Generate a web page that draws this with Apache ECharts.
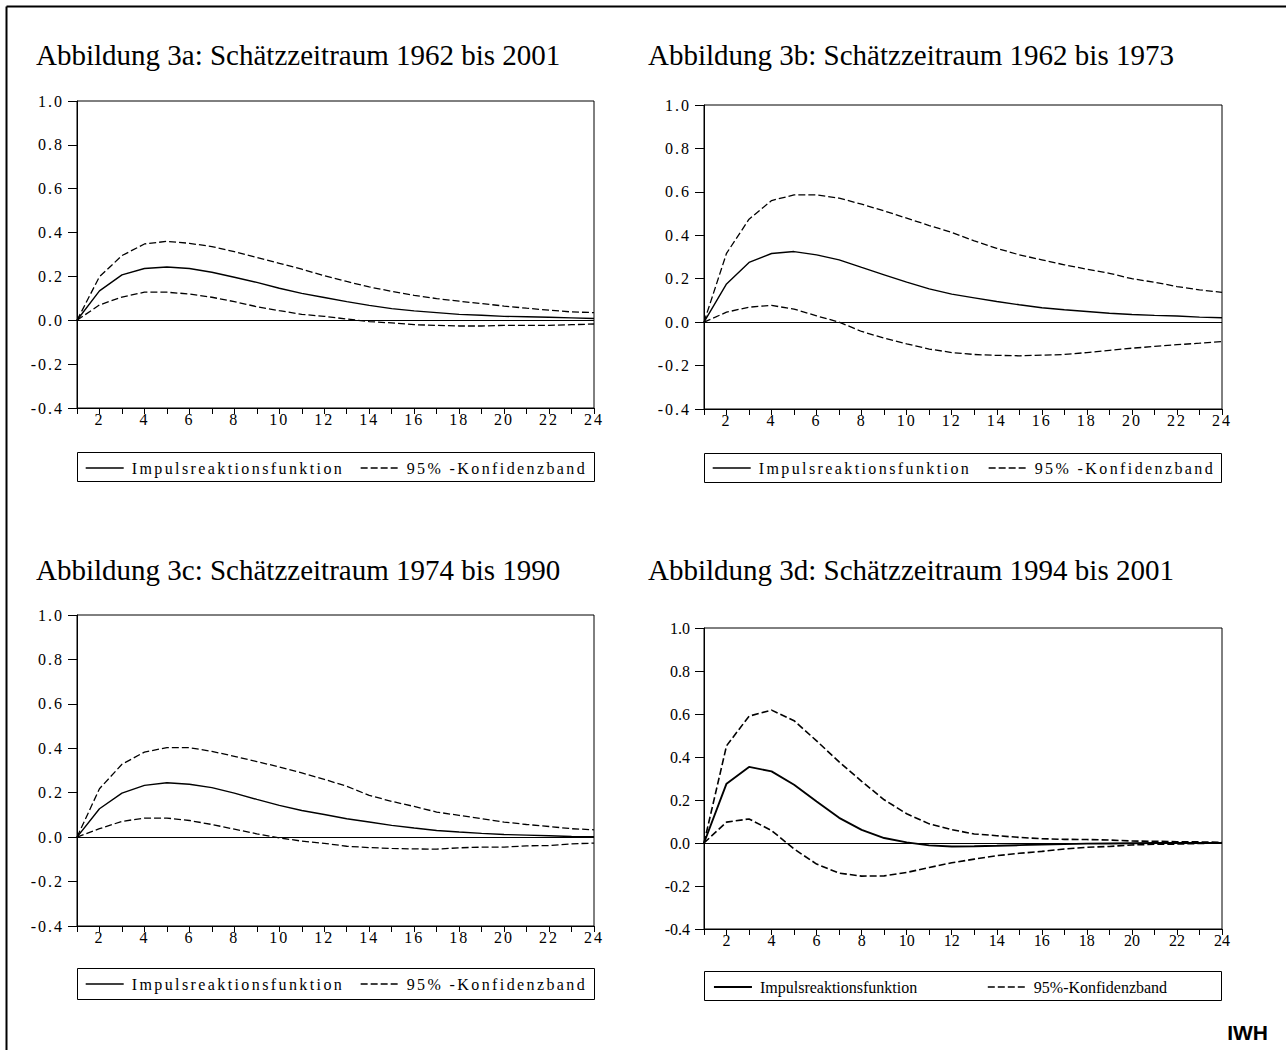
<!DOCTYPE html>
<html><head><meta charset="utf-8">
<script src="https://cdn.jsdelivr.net/npm/echarts@6/dist/echarts.min.js"></script>
<style>
html,body{margin:0;padding:0;background:#fff;}
#c{width:1286px;height:1050px;}
#c text[style*="Times New Roman"]{letter-spacing:2px;}
#c text[style*="Times, serif"]{letter-spacing:2.4px;}
</style></head><body><div id="c"></div>
<script>
// ---- data ----
const horizons = [1,2,3,4,5,6,7,8,9,10,11,12,13,14,15,16,17,18,19,20,21,22,23,24];
const yTicks = [-0.4,-0.2,0.0,0.2,0.4,0.6,0.8,1.0];
const titles = [
  'Abbildung 3a: Schätzzeitraum 1962 bis 2001',
  'Abbildung 3b: Schätzzeitraum 1962 bis 1973',
  'Abbildung 3c: Schätzzeitraum 1974 bis 1990',
  'Abbildung 3d: Schätzzeitraum 1994 bis 2001'
];
const irfName = 'Impulsreaktionsfunktion';
const bandNameABC = '95% -Konfidenzband';
const bandNameD = '95%-Konfidenzband';

const irfA = [0,0.134,0.207,0.236,0.243,0.236,0.219,0.196,0.173,0.146,0.123,0.104,0.085,0.068,0.053,0.043,0.035,0.027,0.023,0.018,0.016,0.014,0.011,0.008];
const upA  = [0,0.199,0.295,0.348,0.360,0.351,0.336,0.313,0.286,0.260,0.233,0.203,0.177,0.152,0.132,0.114,0.099,0.087,0.076,0.065,0.055,0.046,0.038,0.035];
const loA  = [0,0.070,0.106,0.128,0.128,0.120,0.105,0.085,0.062,0.044,0.027,0.018,0.006,-0.006,-0.012,-0.020,-0.023,-0.026,-0.026,-0.023,-0.023,-0.023,-0.020,-0.017];

const irfB = [0,0.176,0.275,0.316,0.325,0.310,0.287,0.252,0.218,0.184,0.153,0.129,0.112,0.095,0.080,0.066,0.057,0.049,0.041,0.035,0.031,0.028,0.023,0.020];
const upB  = [0,0.317,0.474,0.560,0.586,0.586,0.571,0.543,0.512,0.479,0.445,0.413,0.374,0.340,0.310,0.287,0.264,0.244,0.225,0.200,0.184,0.164,0.149,0.137];
const loB  = [0,0.046,0.069,0.077,0.060,0.029,0.000,-0.043,-0.074,-0.100,-0.124,-0.140,-0.149,-0.153,-0.155,-0.152,-0.149,-0.140,-0.130,-0.120,-0.112,-0.104,-0.097,-0.089];

const irfC = [0,0.128,0.198,0.233,0.245,0.238,0.223,0.198,0.170,0.143,0.120,0.102,0.083,0.068,0.053,0.041,0.030,0.023,0.017,0.012,0.009,0.006,0.003,0.002];
const upC  = [0,0.218,0.328,0.383,0.403,0.403,0.386,0.364,0.340,0.316,0.289,0.260,0.229,0.188,0.161,0.138,0.113,0.098,0.083,0.068,0.057,0.048,0.038,0.033];
const loC  = [0,0.038,0.071,0.086,0.086,0.075,0.057,0.036,0.015,-0.003,-0.018,-0.028,-0.041,-0.047,-0.051,-0.053,-0.054,-0.048,-0.045,-0.045,-0.039,-0.038,-0.030,-0.027];

const irfD = [0,0.276,0.354,0.333,0.271,0.193,0.117,0.061,0.023,0.003,-0.011,-0.016,-0.015,-0.013,-0.010,-0.007,-0.005,-0.003,-0.002,-0.001,0.000,0.000,0.000,0.000];
const upD  = [0,0.452,0.590,0.618,0.569,0.475,0.377,0.287,0.201,0.136,0.089,0.062,0.042,0.034,0.026,0.020,0.017,0.016,0.014,0.009,0.008,0.006,0.005,0.003];
const loD  = [0,0.097,0.112,0.058,-0.028,-0.098,-0.140,-0.154,-0.153,-0.137,-0.114,-0.092,-0.075,-0.059,-0.048,-0.039,-0.028,-0.020,-0.016,-0.009,-0.006,-0.005,-0.002,0.000];

// ---- layout / style ----
const SERIF = "'Liberation Serif', serif";
const SERIF_LBL = "'Liberation Serif', 'Times New Roman', serif";
const SERIF_LEG = "'Liberation Serif', Times, serif";

const panels = [
  {grid:{left:77, top:101, width:517, height:307}, irf:irfA, up:upA, lo:loA, band:bandNameABC, spaced:true,
   title:{left:36, top:40}, leg:{l1:85, l2:360, top:460}, box:[77.5,452.5,517,29], w1:1.4, w2:1.3},
  {grid:{left:704, top:105, width:518, height:304}, irf:irfB, up:upB, lo:loB, band:bandNameABC, spaced:true,
   title:{left:648, top:40}, leg:{l1:712, l2:988, top:460}, box:[704.5,453.5,517,29], w1:1.4, w2:1.3},
  {grid:{left:77, top:615, width:517, height:311}, irf:irfC, up:upC, lo:loC, band:bandNameABC, spaced:true,
   title:{left:36, top:555}, leg:{l1:85, l2:360, top:976}, box:[77.5,968.5,517,31], w1:1.4, w2:1.3},
  {grid:{left:704, top:628, width:518, height:301}, irf:irfD, up:upD, lo:loD, band:bandNameD, spaced:false,
   title:{left:648, top:555}, leg:{l1:713, l2:987, top:979}, box:[704.5,971.5,517,29], w1:1.9, w2:1.6}
];

const option = {
  backgroundColor:'#fff',
  animation:false,
  title:[], grid:[], xAxis:[], yAxis:[], series:[], legend:[],
  graphic:[]
};

panels.forEach((p,i)=>{
  option.title.push({text:titles[i], left:p.title.left, top:p.title.top, padding:0,
    textStyle:{fontFamily:SERIF, fontSize:29, fontWeight:'normal', color:'#000'}});
  option.grid.push(Object.assign({show:true, borderColor:'#000', borderWidth:1, backgroundColor:'transparent'}, p.grid));
  const lblFam = p.spaced ? SERIF_LBL : SERIF;
  option.xAxis.push({type:'value', gridIndex:i, min:horizons[0], max:horizons[horizons.length-1], interval:1,
    axisLine:{show:true, onZero:false, lineStyle:{color:'#000', width:1}},
    axisTick:{show:true, inside:false, length:6, lineStyle:{color:'#000', width:1}},
    axisLabel:{show:true, margin:3, color:'#000', fontFamily:lblFam, fontSize:16,
      formatter:v=> (v%2===0 ? String(v) : ''), showMinLabel:true, showMaxLabel:true},
    splitLine:{show:false}});
  option.yAxis.push({type:'value', gridIndex:i, min:yTicks[0], max:yTicks[yTicks.length-1], interval:0.2,
    axisLine:{show:true, onZero:false, lineStyle:{color:'#000', width:1}},
    axisTick:{show:true, inside:false, length:9, lineStyle:{color:'#000', width:1}},
    axisLabel:{show:true, margin:p.spaced?13:14, color:'#000', fontFamily:lblFam, fontSize:16,
      formatter:v=>v.toFixed(1)},
    splitLine:{show:false}});
  const pts = arr => horizons.map((h,k)=>[h, arr[k]]);
  option.series.push({name:irfName, type:'line', xAxisIndex:i, yAxisIndex:i, data:pts(p.irf),
    symbol:'none', lineStyle:{color:'#000', width:p.w1, type:'solid'}, itemStyle:{color:'#000'}, z:3,
    markLine:{silent:true, symbol:'none', label:{show:false}, animation:false,
      lineStyle:{color:'#000', width:1, type:'solid'}, data:[{yAxis:0}]}});
  option.series.push({name:p.band, type:'line', xAxisIndex:i, yAxisIndex:i, data:pts(p.up),
    symbol:'none', lineStyle:{color:'#000', width:p.w2, type:[7,3]}, itemStyle:{color:'#000'}, z:2});
  option.series.push({name:p.band, type:'line', xAxisIndex:i, yAxisIndex:i, data:pts(p.lo),
    symbol:'none', lineStyle:{color:'#000', width:p.w2, type:[7,3]}, itemStyle:{color:'#000'}, z:2});
  const legFam = p.spaced ? SERIF_LEG : SERIF;
  const legBase = {orient:'horizontal', top:p.leg.top, padding:0, itemWidth:38, itemHeight:14, selectedMode:false,
    itemStyle:{opacity:0, borderWidth:0},
    textStyle:{fontFamily:legFam, fontSize:16, color:'#000', padding:[0,0,0,3]}};
  option.legend.push(Object.assign({}, legBase, {left:p.leg.l1, data:[irfName], lineStyle:{width:p.w1, type:'solid', color:'#000', opacity:1}}));
  option.legend.push(Object.assign({}, legBase, {left:p.leg.l2, data:[p.band], lineStyle:{width:p.w2, type:[7,3], color:'#000', opacity:1}}));
  option.graphic.push({type:'rect', silent:true, z:-1,
    shape:{x:p.box[0], y:p.box[1], width:p.box[2], height:p.box[3]},
    style:{fill:'none', stroke:'#000', lineWidth:1}});
});

// outer frame (top and left edges visible)
option.graphic.push({type:'line', silent:true, shape:{x1:6.5, y1:6.5, x2:1286, y2:6.5}, style:{stroke:'#000', lineWidth:2}});
option.graphic.push({type:'line', silent:true, shape:{x1:6.5, y1:6.5, x2:6.5, y2:1050}, style:{stroke:'#000', lineWidth:2}});
option.graphic.push({type:'text', silent:true, right:18, top:1022,
  style:{text:'IWH', fill:'#000', font:"bold 21px 'Liberation Sans', Arial, sans-serif"}});

const chart = echarts.init(document.getElementById('c'), null, {renderer:'svg', width:1286, height:1050});
chart.setOption(option);
</script></body></html>
